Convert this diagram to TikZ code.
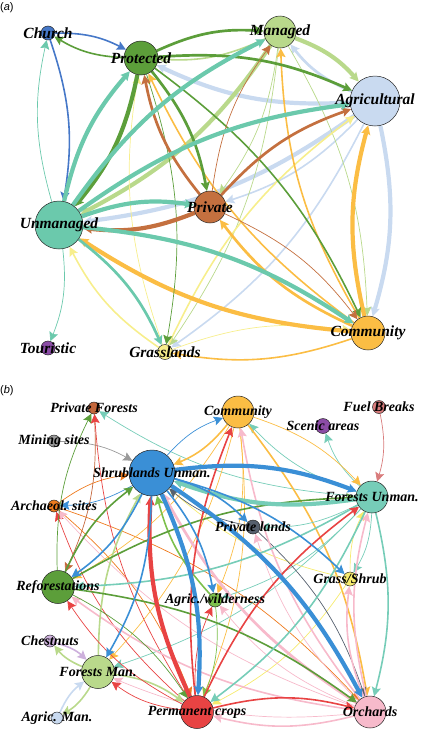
\documentclass[tikz,border=0pt]{standalone}
\usepackage{fontspec}
\setmainfont{Liberation Serif}
\newfontfamily\panelfont{Liberation Sans}
\usetikzlibrary{arrows.meta}
\pgfdeclarelayer{edges}
\pgfsetlayers{edges,main}
% panel a colours
\definecolor{cCh}{HTML}{4678C8}
\definecolor{cPr}{HTML}{5C9E3A}
\definecolor{cMa}{HTML}{B9D98B}
\definecolor{cAg}{HTML}{C9DAF0}
\definecolor{cUn}{HTML}{6BC9AC}
\definecolor{cPv}{HTML}{C4703F}
\definecolor{cCo}{HTML}{FBBD44}
\definecolor{cGr}{HTML}{F7EE8C}
\definecolor{cTo}{HTML}{8B4CA6}
% panel b colours
\definecolor{cSU}{HTML}{3A8FD6}
\definecolor{cFU}{HTML}{76CDB8}
\definecolor{cPF}{HTML}{C4673C}
\definecolor{cFB}{HTML}{D97C7C}
\definecolor{cSA}{HTML}{8B4CA6}
\definecolor{cMS}{HTML}{9A9A9A}
\definecolor{cAS}{HTML}{EE7B1E}
\definecolor{cPL}{HTML}{56606E}
\definecolor{cGS}{HTML}{F6EB6E}
\definecolor{cRF}{HTML}{5C9E3A}
\definecolor{cAW}{HTML}{7DC04C}
\definecolor{cCN}{HTML}{CDB0DC}
\definecolor{cFM}{HTML}{B9D98B}
\definecolor{cAM}{HTML}{C9DAF0}
\definecolor{cPC}{HTML}{E84343}
\definecolor{cOR}{HTML}{F7BACB}
\newcommand\edg[4]{\draw[ed,#3,#4] (#1) to (#2);}
\begin{document}
\begin{tikzpicture}[x=1pt,y=-1pt,
  nd/.style={circle,draw=black!85,line width=0.5pt,inner sep=0pt,minimum size=#1},
  laba/.style={font=\bfseries\itshape\fontsize{15.5}{16}\selectfont,inner sep=0pt},
  labb/.style={font=\bfseries\itshape\fontsize{14}{15}\selectfont,inner sep=0pt},
  ed/.style={-{Stealth[length=9pt,width=9pt,inset=1.5pt]},bend left=14},
  wa/.style={line width=0.7pt},
  wb/.style={line width=1.6pt},
  wc/.style={line width=2.7pt},
  wd/.style={line width=4.2pt},
  plab/.style={font=\panelfont\fontsize{11}{12}\selectfont,inner sep=0pt,anchor=west}
]
\useasboundingbox (0,0) rectangle (421,731);
\node[plab] (pa) at (0,8) {(\textit{a})};
\node[plab] (pb) at (0,391) {(\textit{b})};

% ---------- panel (a) nodes
\node[nd=14pt,fill=cCh] (ch) at (48,33) {};
\node[nd=34pt,fill=cPr] (pr) at (141,58) {};
\node[nd=32pt,fill=cMa] (ma) at (280,32) {};
\node[nd=50pt,fill=cAg] (ag) at (375,101) {};
\node[nd=48pt,fill=cUn] (un) at (59,225) {};
\node[nd=32pt,fill=cPv] (pv) at (210,207) {};
\node[nd=34pt,fill=cCo] (co) at (368,333) {};
\node[nd=15pt,fill=cGr] (gr) at (165,352) {};
\node[nd=14pt,fill=cTo] (to) at (48,348) {};

% ---------- panel (b) nodes
\node[nd=46pt,fill=cSU] (su) at (152,473) {};
\node[nd=32pt,fill=cFU] (fu) at (372,497) {};
\node[nd=32pt,fill=cCo] (cm) at (238,412) {};
\node[nd=12pt,fill=cPF] (pf) at (94,408) {};
\node[nd=13pt,fill=cFB] (fb) at (379,407) {};
\node[nd=15pt,fill=cSA] (sa) at (323,426) {};
\node[nd=12pt,fill=cMS] (ms) at (54,441) {};
\node[nd=12pt,fill=cAS] (as) at (54,506) {};
\node[nd=14pt,fill=cPL] (pl) at (253,527) {};
\node[nd=14pt,fill=cGS] (gs) at (350,579) {};
\node[nd=33pt,fill=cRF] (rf) at (58,587) {};
\node[nd=14pt,fill=cAW] (aw) at (215,600) {};
\node[nd=12pt,fill=cCN] (cn) at (50,641) {};
\node[nd=33pt,fill=cFM] (fm) at (98,672) {};
\node[nd=12pt,fill=cAM] (am) at (57,718) {};
\node[nd=33pt,fill=cPC] (pc) at (197,712) {};
\node[nd=32pt,fill=cOR] (or) at (370,712) {};

\begin{pgfonlayer}{edges}
% ---------- panel (a) edges
\edg{ch}{pr}{wb}{cCh}
\edg{pr}{ch}{wb}{cPr}
\edg{ch}{un}{wb}{cCh}
\edg{un}{ch}{wa}{cUn}
\edg{un}{to}{wa}{cUn}
\edg{ag}{pr}{wd}{cAg}
\edg{ag}{un}{wd}{cAg}
\edg{ag}{co}{wd}{cAg}
\edg{ag}{ma}{wc}{cAg}
\edg{ag}{pv}{wb}{cAg}
\edg{ag}{gr}{wb}{cAg}
\edg{ma}{pr}{wb}{cMa}
\edg{ma}{ag}{wd}{cMa}
\edg{ma}{un}{wd}{cMa}
\edg{ma}{pv}{wa}{cMa}
\edg{ma}{co}{wa}{cMa}
\edg{ma}{gr}{wa}{cMa}
\edg{gr}{pr}{wa}{cGr}
\edg{gr}{ag}{wb}{cGr}
\edg{gr}{un}{wb}{cGr}
\edg{gr}{co}{wa}{cGr}
\edg{co}{pr}{wb}{cCo}
\edg{co}{ma}{wb}{cCo}
\edg{co}{ag}{wd}{cCo}
\edg{co}{un}{wd}{cCo}
\edg{co}{pv}{wc}{cCo}
\edg{co}{gr}{wb}{cCo}
\edg{pr}{ma}{wc}{cPr}
\edg{pr}{ag}{wc}{cPr}
\edg{pr}{un}{wd}{cPr}
\edg{pr}{pv}{wc}{cPr}
\edg{pr}{co}{wb}{cPr}
\edg{pr}{gr}{wa}{cPr}
\edg{pv}{pr}{wc}{cPv}
\edg{pv}{ma}{wa}{cPv}
\edg{pv}{ag}{wc}{cPv}
\edg{pv}{un}{wd}{cPv}
\edg{pv}{co}{wa}{cPv}
\edg{un}{pr}{wd}{cUn}
\edg{un}{ma}{wd}{cUn}
\edg{un}{ag}{wd}{cUn}
\edg{un}{pv}{wd}{cUn}
\edg{un}{co}{wd}{cUn}
\edg{un}{gr}{wc}{cUn}

% ---------- panel (b) edges
\edg{fb}{fu}{wa}{cFB}
\edg{fu}{sa}{wa}{cFU}
\edg{fu}{pf}{wa}{cFU}
\edg{ms}{su}{wa}{cMS}
\edg{as}{su}{wa}{cAS}
\edg{su}{as}{wa}{cSU}
\edg{as}{pc}{wa}{cAS}
\edg{as}{or}{wa}{cAS}
\edg{pc}{as}{wa}{cPC}
\edg{or}{as}{wa}{cOR}
\edg{pf}{rf}{wa}{cPF}
\edg{rf}{pf}{wa}{cRF}
\edg{pc}{pf}{wa}{cPC}
\edg{cm}{fu}{wa}{cCo}
\edg{fu}{cm}{wa}{cFU}
\edg{cm}{rf}{wa}{cCo}
\edg{cm}{aw}{wa}{cCo}
\edg{cm}{fm}{wa}{cCo}
\edg{cm}{pc}{wa}{cCo}
\edg{cm}{or}{wb}{cCo}
\edg{su}{cm}{wa}{cSU}
\edg{cm}{su}{wb}{cCo}
\edg{gs}{fu}{wa}{cGS}
\edg{fu}{gs}{wa}{cFU}
\edg{fu}{aw}{wa}{cFU}
\edg{fu}{fm}{wa}{cFU}
\edg{fu}{pl}{wa}{cFU}
\edg{gs}{su}{wa}{cGS}
\edg{gs}{pc}{wa}{cGS}
\edg{pl}{su}{wa}{cPL}
\edg{pl}{or}{wa}{cPL}
\edg{or}{pl}{wa}{cOR}
\edg{or}{gs}{wb}{cOR}
\edg{or}{aw}{wa}{cOR}
\edg{or}{fm}{wa}{cOR}
\edg{or}{rf}{wb}{cOR}
\edg{or}{cm}{wb}{cOR}
\edg{or}{fu}{wb}{cOR}
\edg{or}{pc}{wb}{cOR}
\edg{or}{su}{wc}{cOR}
\edg{cn}{fm}{wb}{cCN}
\edg{fm}{cn}{wb}{cFM}
\edg{am}{fm}{wb}{cAM}
\edg{fm}{am}{wb}{cFM}
\edg{fm}{pc}{wb}{cFM}
\edg{fm}{su}{wb}{cFM}
\edg{aw}{su}{wb}{cAW}
\edg{aw}{pc}{wa}{cAW}
\edg{rf}{su}{wb}{cRF}
\edg{rf}{fu}{wb}{cRF}
\edg{rf}{or}{wb}{cRF}
\edg{rf}{pc}{wa}{cRF}
\edg{fu}{rf}{wb}{cFU}
\edg{fu}{pc}{wb}{cFU}
\edg{fu}{or}{wb}{cFU}
\edg{fu}{su}{wd}{cFU}
\edg{pc}{fu}{wb}{cPC}
\edg{pc}{cm}{wb}{cPC}
\edg{pc}{rf}{wa}{cPC}
\edg{pc}{fm}{wa}{cPC}
\edg{pc}{aw}{wa}{cPC}
\edg{pc}{or}{wb}{cPC}
\edg{pc}{su}{wd}{cPC}
\edg{su}{fu}{wd}{cSU}
\edg{su}{pl}{wb}{cSU}
\edg{su}{gs}{wb}{cSU}
\edg{su}{aw}{wb}{cSU}
\edg{su}{fm}{wb}{cSU}
\edg{su}{rf}{wb}{cSU}
\edg{su}{or}{wd}{cSU}
\edg{su}{pc}{wd}{cSU}
\end{pgfonlayer}

% ---------- labels (a)
\node[laba] (lch) at (ch) {Church};
\node[laba] (lpr) at (pr) {Protected};
\node[laba] (lma) at (ma) {Managed};
\node[laba] (lag) at (ag) {Agricultural};
\node[laba] (lun) at (un) {Unmanaged};
\node[laba] (lpv) at (pv) {Private};
\node[laba] (lco) at (co) {Community};
\node[laba] (lgr) at (gr) {Grasslands};
\node[laba] (lto) at (to) {Touristic};
% ---------- labels (b)
\node[labb] (lsu) at (su) {Shrublands Unman.};
\node[labb] (lfu) at (fu) {Forests Unman.};
\node[labb] (lcm) at (cm) {Community};
\node[labb] (lpf) at (pf) {Private Forests};
\node[labb] (lfb) at (fb) {Fuel Breaks};
\node[labb] (lsa) at (sa) {Scenic areas};
\node[labb] (lms) at (ms) {Mining sites};
\node[labb] (las) at (as) {Archaeol. sites};
\node[labb] (lpl) at (pl) {Private lands};
\node[labb] (lgs) at (gs) {Grass/Shrub};
\node[labb] (lrf) at (rf) {Reforestations};
\node[labb] (law) at (aw) {Agric./wilderness};
\node[labb] (lcn) at (cn) {Chestnuts};
\node[labb] (lfm) at (fm) {Forests Man.};
\node[labb] (lam) at (am) {Agric. Man.};
\node[labb] (lpc) at (pc) {Permanent crops};
\node[labb] (lor) at (or) {Orchards};
\end{tikzpicture}
\end{document}
